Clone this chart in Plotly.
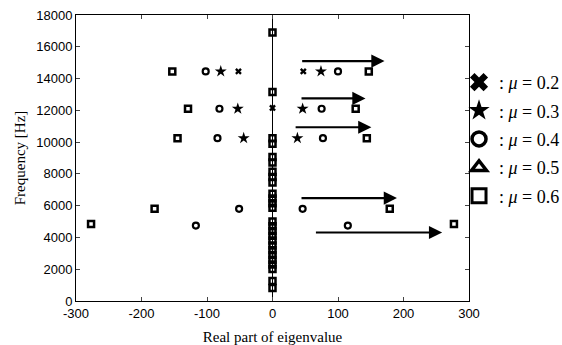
import plotly.graph_objects as go

# ---- data ----
mu02_x = [-52, 47, 0]
mu02_y = [14450, 14450, 12150]

mu03_x = [-79, 74, -53, 46, -44, 38]
mu03_y = [14450, 14450, 12100, 12100, 10250, 10250]

mu04_x = [-102, 100, -81, 75, -84, 77, -51, 46, -117, 115]
mu04_y = [14450, 14450, 12100, 12100, 10250, 10250, 5800, 5800, 4750, 4750]

mu05_x = []
mu05_y = []

mu06_x = [-153, 147, -129, 127, -145, 144, -180, 179, -277, 277]
mu06_y = [14450, 14450, 12100, 12100, 10250, 10250, 5800, 5800, 4850, 4850]

col_freq = [16900, 13150, 10250, 9890, 9070, 8720, 8140, 7800, 7460, 6750, 6450,
            6150, 5870, 5000, 4700, 4400, 4100, 3800, 3500, 3200, 2900, 2600,
            2300, 2020, 1265, 820]

arrow_start = [43, 42, 33, 42, 64]
arrow_end = [171, 142, 151, 190, 259]
arrow_y = [15100, 12750, 10935, 6480, 4310]

x_ticks = [-300, -200, -100, 0, 100, 200, 300]
y_ticks = [0, 2000, 4000, 6000, 8000, 10000, 12000, 14000, 16000, 18000]

labels = ["0.2", "0.3", "0.4", "0.5", "0.6"]

fig = go.Figure()

# column of purely imaginary eigenvalues (squares at Re = 0)
sq_x = mu06_x + [0] * len(col_freq)
sq_y = mu06_y + col_freq

series = [
    (mu02_x, mu02_y, dict(symbol="x", size=6, color="black", line=dict(width=0))),
    (mu03_x, mu03_y, dict(symbol="star", size=9, color="black", line=dict(width=0))),
    (mu04_x, mu04_y, dict(symbol="circle-open", size=6, color="black", line=dict(width=2.2))),
    (mu05_x, mu05_y, dict(symbol="triangle-up-open", size=7, color="black", line=dict(width=2))),
    (sq_x, sq_y, dict(symbol="square-open", size=6, color="black", line=dict(width=2.5))),
]
for xs, ys, mk in series:
    fig.add_trace(go.Scatter(x=xs, y=ys, mode="markers", marker=mk,
                             showlegend=False, hoverinfo="skip", cliponaxis=False))

# legend entries
leg_markers = [
    dict(symbol="x", size=16, color="black", line=dict(width=0)),
    dict(symbol="star", size=16, color="black", line=dict(width=0)),
    dict(symbol="circle-open", size=14, color="black", line=dict(width=3.5)),
    dict(symbol="triangle-up-open", size=13, color="black", line=dict(width=3.5)),
    dict(symbol="square-open", size=14, color="black", line=dict(width=3)),
]
for i, (lab, mk) in enumerate(zip(labels, leg_markers)):
    fig.add_trace(go.Scatter(x=[None], y=[None], mode="markers", marker=mk,
                             name=": <i>μ</i> = " + lab, legendgroup="g%d" % i,
                             showlegend=True))

for xs, xe, yy in zip(arrow_start, arrow_end, arrow_y):
    fig.add_annotation(x=xe, y=yy, ax=xs, ay=yy, xref="x", yref="y",
                       axref="x", ayref="y", text="", showarrow=True,
                       arrowhead=2, arrowsize=1.2, arrowwidth=2.2,
                       arrowcolor="black")

fig.update_layout(
    width=562, height=345,
    margin=dict(l=76, r=93, t=15, b=44, autoexpand=False),
    paper_bgcolor="white", plot_bgcolor="white",
    showlegend=True,
    legend=dict(x=0.9746, xanchor="left", y=0.829, yanchor="top",
                font=dict(family="Liberation Serif", size=18, color="black"),
                tracegroupgap=2, bgcolor="rgba(0,0,0,0)", itemsizing="trace"),
    xaxis=dict(range=[-300, 300], tickvals=x_ticks, ticktext=[str(v) for v in x_ticks],
               ticks="inside", ticklen=4, automargin=False,
               showline=True, linecolor="black", linewidth=1, mirror="ticks",
               showgrid=False, zeroline=True, zerolinecolor="black", zerolinewidth=1,
               tickfont=dict(family="Liberation Sans", size=13, color="black"),
               title=dict(text="Real part of eigenvalue", standoff=12,
                          font=dict(family="Liberation Serif", size=15, color="black"))),
    yaxis=dict(range=[0, 18000], tickvals=y_ticks, ticktext=[str(v) for v in y_ticks],
               ticks="inside", ticklen=4, automargin=False,
               showline=True, linecolor="black", linewidth=1, mirror="ticks",
               showgrid=False, zeroline=False,
               tickfont=dict(family="Liberation Sans", size=13, color="black"),
               title=dict(text="Frequency [Hz]", standoff=6,
                          font=dict(family="Liberation Serif", size=15, color="black"))),
)

fig.write_html("out.html", config={"displayModeBar": False},
               post_script="document.body.style.margin='0px';")
